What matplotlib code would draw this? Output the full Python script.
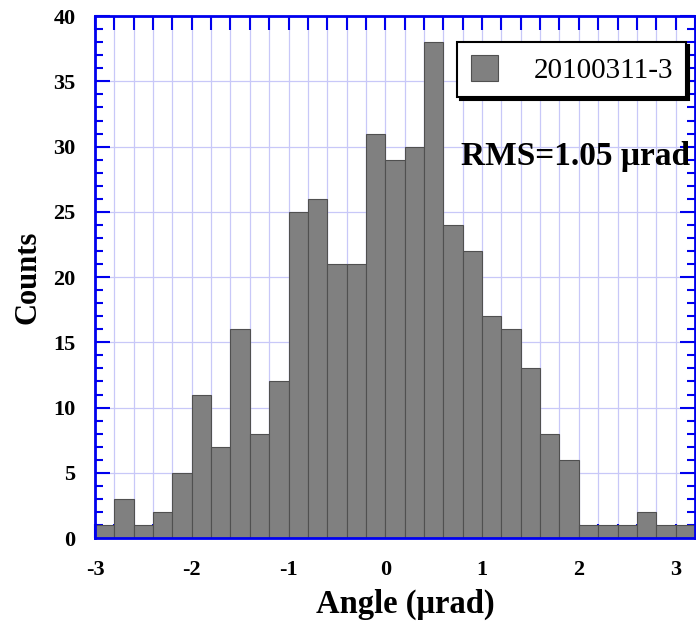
import numpy as np
import matplotlib
matplotlib.use("Agg")
import matplotlib.pyplot as plt
from matplotlib.ticker import MultipleLocator, FuncFormatter

bin_edges = [round(-3.0 + 0.2 * i, 1) for i in range(32)]
counts = [1, 3, 1, 2, 5, 11, 7, 16, 8, 12,
          25, 26, 21, 21, 31, 29, 30, 38, 24, 22,
          17, 16, 13, 8, 6, 1, 1, 1, 2, 1, 1]
series_label = "20100311-3"
rms_text = "RMS=1.05 \u03bcrad"
xlabel = "Angle (\u03bcrad)"
ylabel = "Counts"

plt.rcParams['font.family'] = ['Liberation Serif', 'DejaVu Serif']

fig = plt.figure(figsize=(6.96, 6.22), dpi=100)
ax = fig.add_axes([0.1365, 0.135, 0.862, 0.839])

lefts = bin_edges[:-1]
widths = [b - a for a, b in zip(bin_edges[:-1], bin_edges[1:])]
ax.bar(lefts, counts, width=widths, align='edge', color='#808080',
       edgecolor='#505050', linewidth=0.8, label=series_label, zorder=2)

ax.set_xlim(-3, 3.2)
ax.set_ylim(0, 40)

ax.xaxis.set_major_locator(MultipleLocator(1))
ax.xaxis.set_minor_locator(MultipleLocator(0.2))
ax.yaxis.set_major_locator(MultipleLocator(5))
ax.yaxis.set_minor_locator(MultipleLocator(1))
ax.xaxis.set_major_formatter(FuncFormatter(lambda v, p: f"{int(round(v))}"))

ax.grid(True, which='major', axis='both', color='#c8c8f8', linewidth=0.9, zorder=0)
ax.grid(True, which='minor', axis='x', color='#c8c8f8', linewidth=0.9, zorder=0)
ax.set_axisbelow(True)

for s in ax.spines.values():
    s.set_color('#0000ee')
    s.set_linewidth(2)
    s.set_zorder(3)

ax.tick_params(which='both', direction='in', top=True, right=True, color='#0000ee')
ax.tick_params(axis='x', which='both', length=10, width=1.5)
ax.tick_params(axis='y', which='major', length=11, width=1.5)
ax.tick_params(axis='y', which='minor', length=6, width=1.5)
ax.tick_params(axis='x', which='major', pad=16)
ax.tick_params(axis='y', which='major', pad=14)
for lab in ax.get_xticklabels() + ax.get_yticklabels():
    lab.set_fontsize(16)
    lab.set_fontweight('bold')

ax.set_xlabel(xlabel, fontsize=23.5, fontweight='bold', labelpad=6)
ax.xaxis.label.set_x(0.517)
ax.set_ylabel(ylabel, fontsize=22, fontweight='bold', labelpad=8)

leg = ax.legend(loc='upper right', bbox_to_anchor=(0.985, 0.95), borderaxespad=0,
                fancybox=False, shadow={'color': 'black', 'alpha': 1}, framealpha=1,
                edgecolor='black', fontsize=21, handlelength=0.95, handleheight=0.95,
                handletextpad=1.2, borderpad=0.45)
leg.get_frame().set_linewidth(1.5)
leg.set_zorder(5)

ax.text(0.61, 0.732, rms_text, transform=ax.transAxes, fontsize=24,
        fontweight='bold', ha='left', va='center', zorder=5)

fig.savefig("out.png", dpi=100)
